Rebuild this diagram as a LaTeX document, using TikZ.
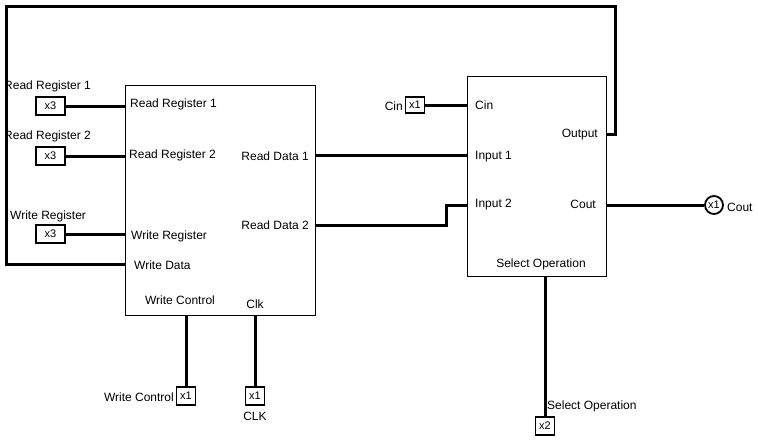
\documentclass[tikz,border=0pt]{standalone}
\usepackage{fontspec}
\setmainfont{Liberation Sans}
\begin{document}
\begin{tikzpicture}[x=1pt,y=-1pt,
  every node/.style={font=\fontsize{12}{14}\selectfont, inner sep=0pt},
  block/.style={draw, line width=0.8pt, minimum width=0pt, anchor=north west},
  pin/.style={draw, line width=1.8pt, minimum width=18pt, minimum height=18pt, inner sep=0pt, font=\fontsize{11}{13}\selectfont},
  outpin/.style={draw, circle, line width=1.8pt, minimum size=18pt, inner sep=0pt, font=\fontsize{11}{13}\selectfont},
  wire/.style={line width=3pt},
  lbl/.style={anchor=west}]
\useasboundingbox (0,0) rectangle (758,440);
% blocks
\node[block, minimum width=190pt, minimum height=230pt] (rf) at (125,85) {};
\node[block, minimum width=139pt, minimum height=200pt] (alu) at (466.5,76) {};
% port coordinates
\coordinate (rr1) at (125,104);
\coordinate (rr2) at (125,154);
\coordinate (wr) at (125,235);
\coordinate (wd) at (125,264);
\coordinate (rd1) at (315,155);
\coordinate (rd2) at (315,225);
\coordinate (wc) at (186,315);
\coordinate (clk) at (255,315);
\coordinate (cin) at (466.5,105);
\coordinate (in1) at (466.5,155);
\coordinate (in2) at (466.5,205);
\coordinate (out) at (605.5,134);
\coordinate (cout) at (605.5,205);
\coordinate (sel) at (545,276);
% port labels
\node[lbl] at (130,104) {Read Register 1};
\node[lbl] at (129,155) {Read Register 2};
\node[lbl] at (131,236) {Write Register};
\node[lbl] at (134,265) {Write Data};
\node[anchor=east] at (309,156) {Read Data 1};
\node[anchor=east] at (309,225) {Read Data 2};
\node at (180,300) {Write Control};
\node at (255,304) {Clk};
\node[lbl] at (475,105) {Cin};
\node[lbl] at (475,157) {Input 1};
\node[lbl] at (475,205) {Input 2};
\node[anchor=east] at (598,135) {Output};
\node[anchor=east] at (596,204) {Cout};
\node at (541,264) {Select Operation};
% pins
\node[pin, minimum width=29pt, minimum height=18pt] (p1) at (50.5,106) {x3};
\node[pin, minimum width=29pt, minimum height=18pt] (p2) at (50.5,156) {x3};
\node[pin, minimum width=29pt, minimum height=18pt] (p3) at (50.5,234) {x3};
\node[lbl] at (4,86) {Read Register 1};
\node[lbl] at (4,136) {Read Register 2};
\node[lbl] at (10,216) {Write Register};
\node[pin, minimum width=19pt, minimum height=16pt] (pc) at (415,105) {x1};
\node[anchor=east] at (403,106) {Cin};
\node[pin, minimum width=19pt, minimum height=18pt] (pw) at (186,396) {x1};
\node[anchor=east] at (174,397) {Write Control};
\node[pin, minimum width=19pt, minimum height=18pt] (pk) at (255,396) {x1};
\node at (255,416) {CLK};
\node[pin, minimum width=19pt, minimum height=18pt] (ps) at (545,426) {x2};
\node[lbl] at (547,406) {Select Operation};
\node[outpin] (po) at (714,205) {x1};
\node[lbl] at (727,207) {Cout};
% wires
\draw[wire] (p1.east) -- (p1.east -| rr1);
\draw[wire] (p2.east) -- (p2.east -| rr2);
\draw[wire] (p3.east) -- (p3.east -| wr);
\draw[wire] (out) -- (615,134) -- (615,6) -- (6,6) -- (6,264) -- (wd);
\draw[wire] (rd1) -- (in1);
\draw[wire] (rd2) -- (446,225) -- (446,205) -- (in2);
\draw[wire] (pc.east) -- (cin);
\draw[wire] (cout) -- (po.west);
\draw[wire] (sel) -- (ps.north);
\draw[wire] (wc) -- (pw.north);
\draw[wire] (clk) -- (pk.north);
\end{tikzpicture}
\end{document}
